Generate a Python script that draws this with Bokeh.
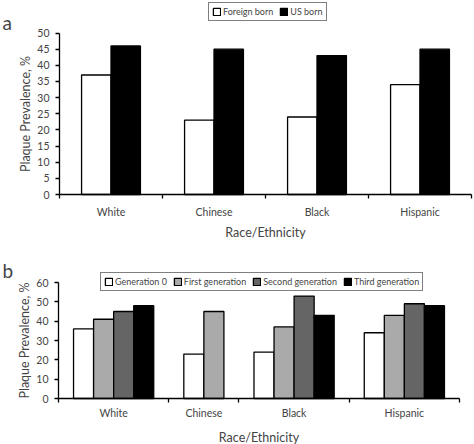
from bokeh.plotting import figure
from bokeh.layouts import column
from bokeh.models import FixedTicker, Legend, LegendItem, Label, Range1d, ColumnDataSource
from bokeh.embed import file_html
from bokeh.resources import INLINE

FONT = "Lato"

categories = ["White", "Chinese", "Black", "Hispanic"]

a_series = ["Foreign born", "US born"]
a_foreign = [37, 23, 24, 34]
a_us = [46, 45, 43, 45]
a_colors = ["#ffffff", "#000000"]

b_series = ["Generation 0", "First generation", "Second generation", "Third generation"]
b_gen0 = [36, 23, 24, 34]
b_gen1 = [41, 45, 37, 43]
b_gen2 = [45, None, 53, 49]
b_gen3 = [48, None, 43, 48]
b_colors = ["#ffffff", "#aaaaaa", "#656565", "#000000"]

a_yticks = list(range(0, 51, 5))
b_yticks = list(range(0, 61, 10))

PAD = 0.75
W = 474


def positions(series_list):
    """Compute bar centers per series, category centers and boundaries."""
    xs = [[] for _ in series_list]
    tops = [[] for _ in series_list]
    centers, bounds = [], [0.0]
    start = 0.0
    for i in range(len(categories)):
        present = [j for j, s in enumerate(series_list) if s[i] is not None]
        width = len(present) + 2 * PAD
        for k, j in enumerate(present):
            xs[j].append(start + PAD + k + 0.5)
            tops[j].append(series_list[j][i])
        centers.append(start + width / 2)
        start += width
        bounds.append(start)
    return xs, tops, centers, bounds


def make_panel(series_list, names, colors, yticks, height, area,
               legend_xy, letter, letter_xy, xlab_standoff, xtitle_standoff):
    # area = (left, right, top, bottom) of the axes area, in canvas pixels
    xs, tops, centers, bounds = positions(series_list)
    left, right, top, bottom = area
    xscale = (right - left) / bounds[-1]
    yscale = (bottom - top) / yticks[-1]
    x_range = Range1d(-left / xscale, bounds[-1] + (W - right) / xscale)
    y_range = Range1d(-(height - bottom) / yscale, yticks[-1] + top / yscale)

    p = figure(width=W, height=height, output_backend="svg", toolbar_location=None,
               x_range=x_range, y_range=y_range,
               min_border_left=0, min_border_right=0,
               min_border_top=0, min_border_bottom=0)
    p.outline_line_color = None
    p.xgrid.grid_line_color = None
    p.ygrid.grid_line_color = None
    p.background_fill_color = "white"
    p.border_fill_color = "white"

    items = []
    for j, name in enumerate(names):
        src = ColumnDataSource(dict(x=xs[j], top=tops[j]))
        r = p.vbar(x="x", top="top", width=1, bottom=0, source=src,
                   fill_color=colors[j], line_color="black", line_width=1.3)
        items.append(LegendItem(label=name, renderers=[r]))

    leg = Legend(items=items, location=legend_xy, orientation="horizontal",
                 border_line_color="black", border_line_width=1.5,
                 background_fill_color="white", background_fill_alpha=1,
                 padding=3, spacing=6, margin=0,
                 glyph_width=9, glyph_height=9, label_standoff=2,
                 label_height=11, label_width=10,
                 label_text_font=FONT, label_text_font_size="9px")
    p.add_layout(leg)

    # y axis drawn at x = 0 of the data, only over the value range
    yax = p.yaxis[0]
    yax.fixed_location = 0
    yax.bounds = (yticks[0], yticks[-1])
    yax.ticker = FixedTicker(ticks=yticks)
    yax.axis_label = "Plaque Prevalence, %"
    yax.axis_label_text_font = FONT
    yax.axis_label_text_font_size = "12.5px"
    yax.axis_label_text_font_style = "normal"
    yax.axis_label_standoff = 1
    yax.major_label_text_font = FONT
    yax.major_label_text_font_size = "10.5px"
    yax.major_label_standoff = 6
    yax.major_tick_out = 4
    yax.major_tick_in = 0
    yax.minor_tick_line_color = None
    yax.axis_line_color = "black"
    yax.axis_line_width = 1.3
    yax.major_tick_line_width = 1.3

    # x axis at y = 0: labels at category centers, ticks at category boundaries
    xax = p.xaxis[0]
    xax.fixed_location = 0
    xax.bounds = (bounds[0], bounds[-1])
    xax.ticker = FixedTicker(ticks=centers, minor_ticks=bounds)
    xax.major_label_overrides = {c: n for c, n in zip(centers, categories)}
    xax.major_tick_line_color = None
    xax.major_tick_out = 0
    xax.major_tick_in = 0
    xax.minor_tick_out = 4
    xax.minor_tick_in = 0
    xax.minor_tick_line_width = 1.3
    xax.axis_line_color = "black"
    xax.axis_line_width = 1.3
    xax.major_label_text_font = FONT
    xax.major_label_text_font_size = "10.5px"
    xax.major_label_standoff = xlab_standoff
    xax.axis_label = "Race/Ethnicity"
    xax.axis_label_text_font = FONT
    xax.axis_label_text_font_size = "12.5px"
    xax.axis_label_text_font_style = "normal"
    xax.axis_label_standoff = xtitle_standoff

    p.add_layout(Label(x=letter_xy[0], y=letter_xy[1], x_units="screen", y_units="screen",
                       text=letter, text_font=FONT, text_font_size="19px",
                       text_baseline="alphabetic"))
    return p


# panel a (canvas 0..242): axes area x 59..471, y 32.5..194
pa = make_panel([a_foreign, a_us], a_series, a_colors, a_yticks,
                242, (59, 471, 32.5, 194), (208, 221), "a", (2, 220), 7, 4)
# panel b (canvas 242..444): axes area x 58..459, y 40..156 (page 282..398)
pb = make_panel([b_gen0, b_gen1, b_gen2, b_gen3], b_series, b_colors, b_yticks,
                202, (58, 459, 40, 156), (100, 153), "b", (2, 174), 4, 8)

layout = column(pa, pb, spacing=0)
open("out.html", "w").write(file_html(layout, INLINE))
